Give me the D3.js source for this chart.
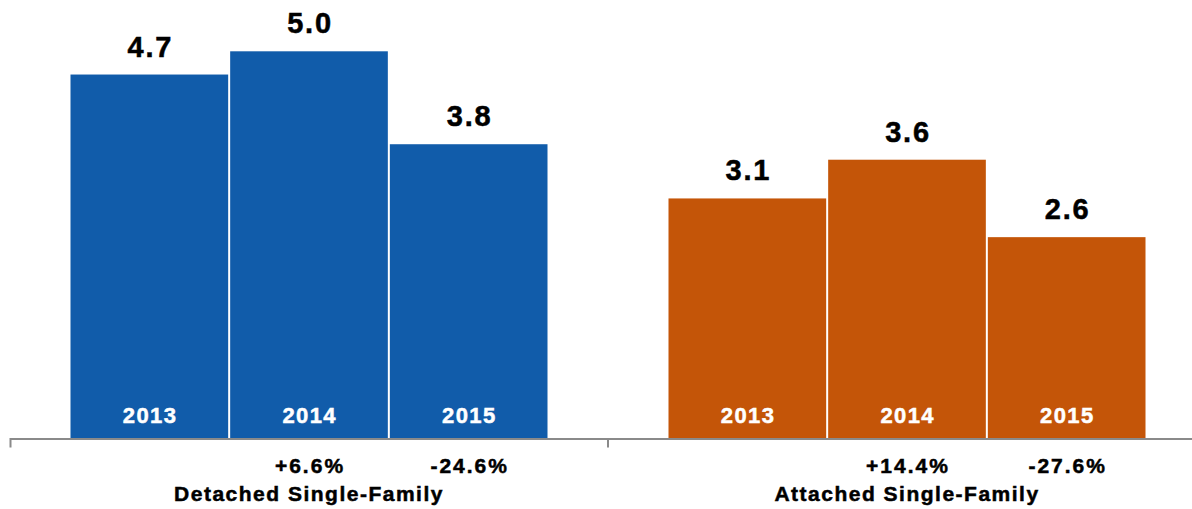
<!DOCTYPE html>
<html>
<head>
<meta charset="utf-8">
<script src="https://cdn.jsdelivr.net/npm/d3@7"></script>
<style>
  html, body { margin: 0; padding: 0; background: #fff; }
  svg { display: block; font-family: "Liberation Sans", Arial, Helvetica, sans-serif; }
  text { paint-order: stroke fill; stroke-width: 0.5px; }
</style>
</head>
<body>
<svg id="chart" width="1192" height="509"></svg>
<script>
// Housing types shown as groups
const groups = ["Detached Single-Family", "Attached Single-Family"];
const years = ["2013", "2014", "2015"];

// Values per year, one array per housing type
const detached = [4.7, 5.0, 3.8];
const attached = [3.1, 3.6, 2.6];

// Year-over-year change labels under each bar
const detachedChange = ["", "+6.6%", "-24.6%"];
const attachedChange = ["", "+14.4%", "-27.6%"];

const groupColors = ["#115CAA", "#C45508"];

const series = [
  { name: groups[0], values: detached, change: detachedChange, color: groupColors[0] },
  { name: groups[1], values: attached, change: attachedChange, color: groupColors[1] }
];

const svg = d3.select("#chart");
const baseY = 438.5;

const x = d3.scaleBand().domain(groups).range([10, 1206]).paddingInner(0).paddingOuter(0);
const inner = d3.scaleBand().domain(years).range([60.5, 539.5]).paddingInner(0).paddingOuter(0);
const y = d3.scaleLinear().domain([0, 5]).range([baseY, 51.3]);

const barW = inner.bandwidth() - 2;
const cx = d => inner(d.year) + barW / 2;

const g = svg.selectAll("g.group")
  .data(series)
  .join("g")
  .attr("class", "group")
  .attr("transform", d => `translate(${x(d.name)},0)`);

const cells = d => d.values.map((v, i) => ({ year: years[i], value: v, change: d.change[i], color: d.color }));

// Bars
g.selectAll("rect")
  .data(cells)
  .join("rect")
  .attr("x", d => inner(d.year))
  .attr("width", barW)
  .attr("y", d => y(d.value))
  .attr("height", d => baseY - y(d.value))
  .attr("fill", d => d.color);

// Value labels above bars
g.selectAll("text.value")
  .data(cells)
  .join("text")
  .attr("class", "value")
  .attr("x", d => cx(d) + 1)
  .attr("y", d => y(d.value) - 18)
  .attr("text-anchor", "middle")
  .attr("font-size", 29)
  .attr("font-weight", "bold")
  .attr("letter-spacing", 1.8)
  .attr("fill", "#000")
  .attr("stroke", "#000")
  .text(d => d.value.toFixed(1));

// Year labels inside bars
g.selectAll("text.year")
  .data(cells)
  .join("text")
  .attr("class", "year")
  .attr("x", d => cx(d) + 0.7)
  .attr("y", 422.5)
  .attr("text-anchor", "middle")
  .attr("font-size", 22)
  .attr("font-weight", "bold")
  .attr("letter-spacing", 1.4)
  .attr("fill", "#fff")
  .attr("stroke", "#fff")
  .text(d => d.year);

// Change labels below axis
g.selectAll("text.change")
  .data(cells)
  .join("text")
  .attr("class", "change")
  .attr("x", d => cx(d) + 1)
  .attr("y", 472.5)
  .attr("text-anchor", "middle")
  .attr("font-size", 21)
  .attr("font-weight", "bold")
  .attr("letter-spacing", 2)
  .attr("fill", "#000")
  .attr("stroke", "#000")
  .text(d => d.change);

// Axis with ticks at group boundaries
const axis = svg.append("g")
  .attr("transform", `translate(0,${baseY})`)
  .call(d3.axisBottom(x).tickSizeInner(0).tickSizeOuter(9).tickFormat(""));
axis.select(".domain").attr("stroke", "#8a8a8a").attr("stroke-width", 2);
axis.selectAll(".tick line").remove();

axis.selectAll("line.boundary")
  .data(groups.slice(1))
  .join("line")
  .attr("class", "boundary")
  .attr("x1", d => x(d))
  .attr("x2", d => x(d))
  .attr("y1", 0)
  .attr("y2", 9)
  .attr("stroke", "#8a8a8a")
  .attr("stroke-width", 2);

// Group labels
svg.selectAll("text.groupLabel")
  .data(groups)
  .join("text")
  .attr("class", "groupLabel")
  .attr("x", d => x(d) + x.bandwidth() / 2)
  .attr("y", 500.5)
  .attr("text-anchor", "middle")
  .attr("font-size", 21)
  .attr("font-weight", "bold")
  .attr("letter-spacing", 1.5)
  .attr("fill", "#000")
  .attr("stroke", "#000")
  .text(d => d);
</script>
</body>
</html>
